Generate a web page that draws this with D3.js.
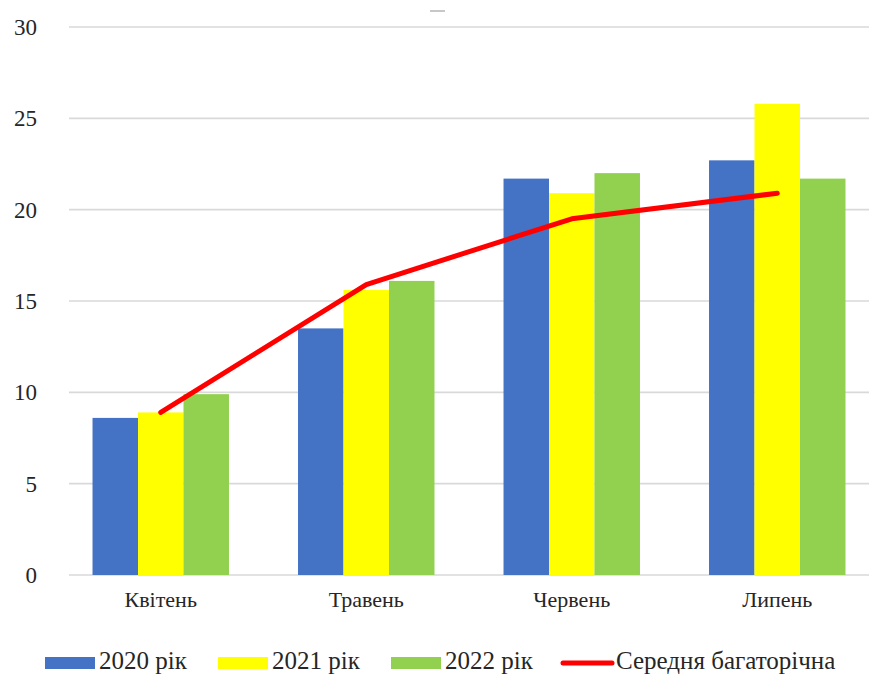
<!DOCTYPE html>
<html>
<head>
<meta charset="utf-8">
<script src="https://cdn.jsdelivr.net/npm/d3@7"></script>
<style>
  html, body { margin: 0; padding: 0; background: #fff; }
  svg { display: block; }
</style>
</head>
<body>
<svg id="chart" width="869" height="675"></svg>
<script>
// Місяці вегетаційного періоду
const months = ["Квітень", "Травень", "Червень", "Липень"];
// Значення за роками
const values2020 = [8.6, 13.5, 21.7, 22.7];
const values2021 = [8.9, 15.6, 20.9, 25.8];
const values2022 = [9.9, 16.1, 22.0, 21.7];
// Середня багаторічна
const meanValues = [8.9, 15.9, 19.5, 20.9];
const yTicks = [0, 5, 10, 15, 20, 25, 30];

const seriesNames = ["2020 рік", "2021 рік", "2022 рік"];
const seriesColors = ["#4472C4", "#FFFF00", "#92D050"];
const lineName = "Середня багаторічна";
const lineColor = "#FF0000";

const series = [values2020, values2021, values2022];

const svg = d3.select("#chart");
const serif = '"Liberation Serif"';

const x = d3.scaleBand().domain(months).range([58, 880])
  .paddingInner(0.336).paddingOuter(0.168);
const xs = d3.scaleBand().domain(d3.range(series.length))
  .range([0, x.bandwidth()]);
const y = d3.scaleLinear().domain([0, 30]).range([575, 27]);

// Горизонтальна сітка
svg.append("g").selectAll("line").data(yTicks).join("line")
  .attr("x1", 69).attr("x2", 869)
  .attr("y1", d => y(d)).attr("y2", d => y(d))
  .attr("stroke", "#d9d9d9").attr("stroke-width", 1.6);

// Підписи осі Y
svg.append("g").selectAll("text").data(yTicks).join("text")
  .attr("x", 37).attr("y", d => y(d))
  .attr("dy", "0.35em")
  .attr("text-anchor", "end")
  .style("font-family", serif)
  .style("font-size", "23px")
  .attr("fill", "#262626")
  .text(d => d);

// Стовпчики
const groups = svg.append("g").selectAll("g").data(months).join("g")
  .attr("transform", m => `translate(${x(m)},0)`);
groups.selectAll("rect")
  .data((m, i) => series.map((s, k) => ({ k, v: s[i] })))
  .join("rect")
  .attr("x", d => xs(d.k))
  .attr("width", xs.bandwidth())
  .attr("y", d => y(d.v))
  .attr("height", d => y(0) - y(d.v))
  .attr("fill", d => seriesColors[d.k]);

// Лінія середньої багаторічної
const line = d3.line()
  .x((d, i) => x(months[i]) + x.bandwidth() / 2)
  .y(d => y(d));
svg.append("path").datum(meanValues)
  .attr("d", line)
  .attr("fill", "none")
  .attr("stroke", lineColor)
  .attr("stroke-width", 5)
  .attr("stroke-linejoin", "round")
  .attr("stroke-linecap", "round");

// Підписи осі X
svg.append("g").selectAll("text").data(months).join("text")
  .attr("x", m => x(m) + x.bandwidth() / 2)
  .attr("y", 607)
  .attr("text-anchor", "middle")
  .style("font-family", serif)
  .style("font-size", "22px")
  .attr("fill", "#262626")
  .text(m => m);

// Залишок заголовка
svg.append("line")
  .attr("x1", 430).attr("x2", 445).attr("y1", 11).attr("y2", 11)
  .attr("stroke", "#b0b0b0").attr("stroke-width", 2).attr("opacity", 0.7);

// Легенда
const legendItems = [
  { name: seriesNames[0], color: seriesColors[0], type: "rect", x: 45 },
  { name: seriesNames[1], color: seriesColors[1], type: "rect", x: 218 },
  { name: seriesNames[2], color: seriesColors[2], type: "rect", x: 391 },
  { name: lineName, color: lineColor, type: "line", x: 562 }
];
const legend = svg.append("g").selectAll("g").data(legendItems).join("g")
  .attr("transform", d => `translate(${d.x},0)`);
legend.filter(d => d.type === "rect").append("rect")
  .attr("x", 0).attr("y", 657).attr("width", 50).attr("height", 12)
  .attr("fill", d => d.color);
legend.filter(d => d.type === "line").append("line")
  .attr("x1", 1).attr("x2", 50).attr("y1", 663).attr("y2", 663)
  .attr("stroke", d => d.color).attr("stroke-width", 5)
  .attr("stroke-linecap", "round");
legend.append("text")
  .attr("x", 54).attr("y", 669)
  .style("font-family", serif)
  .style("font-size", "25px")
  .attr("fill", "#262626")
  .text(d => d.name);
</script>
</body>
</html>
